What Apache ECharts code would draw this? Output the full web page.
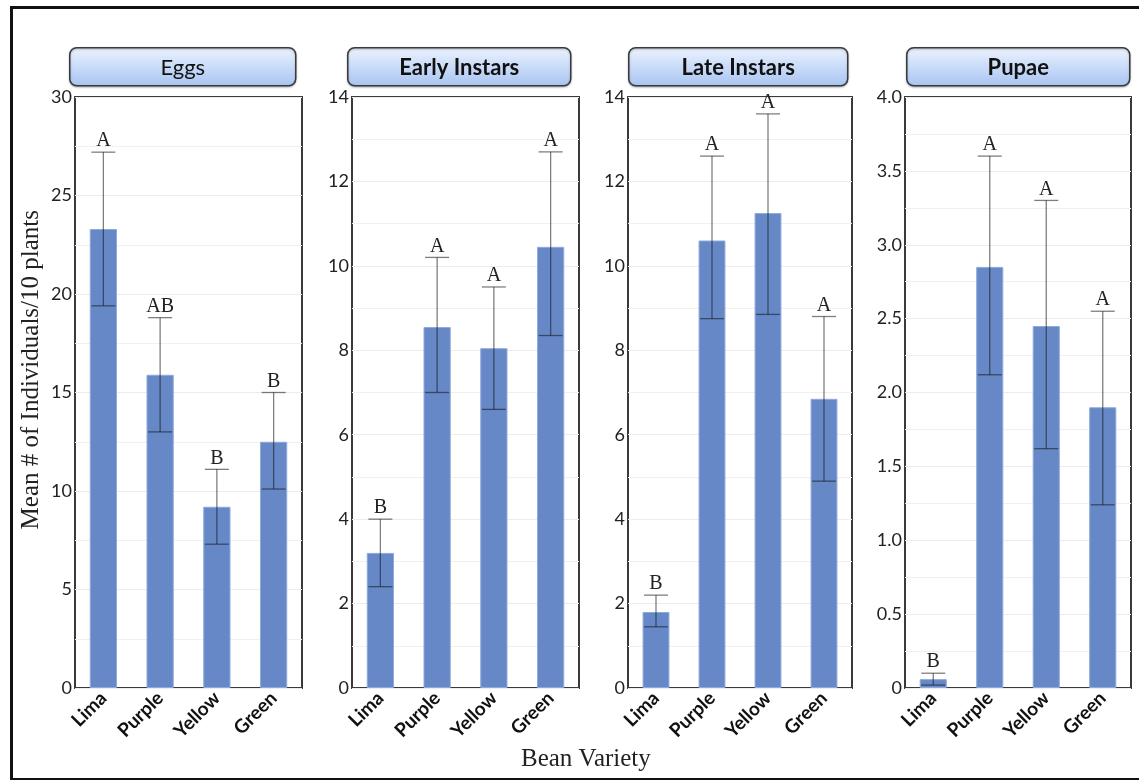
<!DOCTYPE html>
<html>
<head>
<meta charset="utf-8">
<script src="https://cdn.jsdelivr.net/npm/echarts@6/dist/echarts.min.js"></script>
<style>
  html, body { margin: 0; padding: 0; background: #fff; }
  #chart { width: 1139px; height: 780px; }
</style>
</head>
<body>
<div id="chart"></div>
<script>
// Bean varieties shared by all four life-stage panels
const categories = ['Lima', 'Purple', 'Yellow', 'Green'];
const panelTitles = ['Eggs', 'Early Instars', 'Late Instars', 'Pupae'];

// Mean counts and error-bar ranges, one set per life stage
const eggsMean = [23.3, 15.9, 9.2, 12.5];
const eggsLow = [19.4, 13.0, 7.3, 10.1];
const eggsHigh = [27.2, 18.8, 11.1, 15.0];
const eggsLetters = ['A', 'AB', 'B', 'B'];

const earlyMean = [3.2, 8.55, 8.05, 10.45];
const earlyLow = [2.4, 7.0, 6.6, 8.35];
const earlyHigh = [4.0, 10.2, 9.5, 12.7];
const earlyLetters = ['B', 'A', 'A', 'A'];

const lateMean = [1.8, 10.6, 11.25, 6.85];
const lateLow = [1.45, 8.75, 8.85, 4.9];
const lateHigh = [2.2, 12.6, 13.6, 8.8];
const lateLetters = ['B', 'A', 'A', 'A'];

const pupaeMean = [0.06, 2.85, 2.45, 1.9];
const pupaeLow = [0.02, 2.12, 1.62, 1.24];
const pupaeHigh = [0.1, 3.6, 3.3, 2.55];
const pupaeLetters = ['B', 'A', 'A', 'A'];

// Axis ranges and labelled tick steps
const yMax = [30, 14, 14, 4];
const yStep = [5, 2, 2, 0.5];

const panels = [
  { mean: eggsMean, low: eggsLow, high: eggsHigh, letters: eggsLetters },
  { mean: earlyMean, low: earlyLow, high: earlyHigh, letters: earlyLetters },
  { mean: lateMean, low: lateLow, high: lateHigh, letters: lateLetters },
  { mean: pupaeMean, low: pupaeLow, high: pupaeHigh, letters: pupaeLetters }
];

// Plot frame placement for each panel
const frames = [
  { left: 75, width: 227 },
  { left: 352, width: 227 },
  { left: 628, width: 224 },
  { left: 905, width: 226 }
];
const titleBoxes = [
  { x: 69, w: 226 },
  { x: 347, w: 223 },
  { x: 628, w: 219 },
  { x: 906, w: 223 }
];
const frameTop = 97, frameHeight = 591;

const sansFont = 'Lato, "Open Sans", sans-serif';
const serifFont = '"Liberation Serif", "DejaVu Serif", serif';

const grids = [], xAxes = [], yAxes = [], series = [], graphics = [];

frames.forEach((f, i) => {
  grids.push({
    left: f.left, width: f.width, top: frameTop, height: frameHeight,
    show: true, borderColor: '#3a3a3a', borderWidth: 2, backgroundColor: 'transparent'
  });
  xAxes.push({
    type: 'category', gridIndex: i, data: categories,
    axisLine: { show: false }, axisTick: { show: false },
    axisLabel: {
      rotate: 45, fontFamily: sansFont, fontWeight: 'bold', fontSize: 19,
      color: '#111', margin: 7
    }
  });
  const step = yStep[i];
  yAxes.push({
    type: 'value', gridIndex: i, min: 0, max: yMax[i], interval: step,
    axisLine: { show: false }, axisTick: { show: false },
    axisLabel: {
      fontFamily: sansFont, fontSize: 18, color: '#222', margin: 3,
      formatter: v => (v === 0 ? '0' : (step < 1 ? v.toFixed(1) : String(v)))
    },
    splitLine: { show: true, lineStyle: { color: '#ececec', width: 1 } },
    minorTick: { show: false, splitNumber: 2 },
    minorSplitLine: { show: true, lineStyle: { color: '#f0f0f0', width: 1 } }
  });

  const p = panels[i];
  series.push({
    type: 'bar', xAxisIndex: i, yAxisIndex: i, data: p.mean,
    barWidth: '48%',
    itemStyle: { color: '#6688c7', borderColor: '#8ea9dc', borderWidth: 1 },
    silent: true
  });

  // Error bars with significance letters above the upper cap
  series.push({
    type: 'custom', xAxisIndex: i, yAxisIndex: i,
    data: categories.map((c, k) => [k, p.low[k], p.high[k], p.letters[k]]),
    z: 10, silent: true,
    renderItem: (params, api) => {
      const k = api.value(0);
      const lo = api.coord([k, api.value(1)]);
      const hi = api.coord([k, api.value(2)]);
      const half = 12;
      const stroke = { stroke: 'rgba(20,20,20,0.55)', lineWidth: 1.3 };
      return {
        type: 'group',
        children: [
          { type: 'line', shape: { x1: hi[0], y1: hi[1], x2: lo[0], y2: lo[1] }, style: stroke },
          { type: 'line', shape: { x1: hi[0] - half, y1: hi[1], x2: hi[0] + half, y2: hi[1] }, style: stroke },
          { type: 'line', shape: { x1: lo[0] - half, y1: lo[1], x2: lo[0] + half, y2: lo[1] }, style: stroke },
          {
            type: 'text',
            style: {
              x: hi[0], y: hi[1] - 1, text: p.letters[k],
              align: 'center', verticalAlign: 'bottom',
              font: '20px ' + serifFont, fill: '#222'
            }
          }
        ]
      };
    }
  });

  // Rounded, blue-gradient panel heading
  const tb = titleBoxes[i];
  graphics.push({
    type: 'group', left: tb.x, top: 47,
    children: [
      {
        type: 'rect', shape: { x: 0, y: 0, width: tb.w, height: 38, r: 7 },
        style: {
          fill: new echarts.graphic.LinearGradient(0, 0, 0, 1, [
            { offset: 0, color: '#edf3fe' },
            { offset: 1, color: '#a7c4f2' }
          ]),
          stroke: '#3a3a3a', lineWidth: 1.5,
          shadowBlur: 2, shadowOffsetY: 1, shadowColor: 'rgba(0,0,0,0.25)'
        }
      },
      {
        type: 'text',
        style: {
          x: tb.w / 2, y: 20, text: panelTitles[i],
          align: 'center', verticalAlign: 'middle',
          font: (i === 0 ? 'normal ' : 'bold ') + '22px ' + sansFont, fill: '#111'
        }
      }
    ]
  });
});

// Outer figure border
graphics.push({
  type: 'rect', left: 9, top: 5, z: 100,
  shape: { width: 1140, height: 772 },
  style: { fill: 'none', stroke: '#111', lineWidth: 3 }
});
// Shared axis titles
graphics.push({
  type: 'text', left: 19, top: 210, rotation: Math.PI / 2,
  style: { text: 'Mean # of Individuals/10 plants', font: '25px ' + serifFont, fill: '#222' }
});
graphics.push({
  type: 'text', left: 521, top: 747,
  style: { text: 'Bean Variety', font: '25px ' + serifFont, fill: '#222' }
});

const chart = echarts.init(document.getElementById('chart'), null, { renderer: 'canvas' });
chart.setOption({
  animation: false,
  backgroundColor: '#fff',
  grid: grids,
  xAxis: xAxes,
  yAxis: yAxes,
  series: series,
  graphic: graphics
});
</script>
</body>
</html>
